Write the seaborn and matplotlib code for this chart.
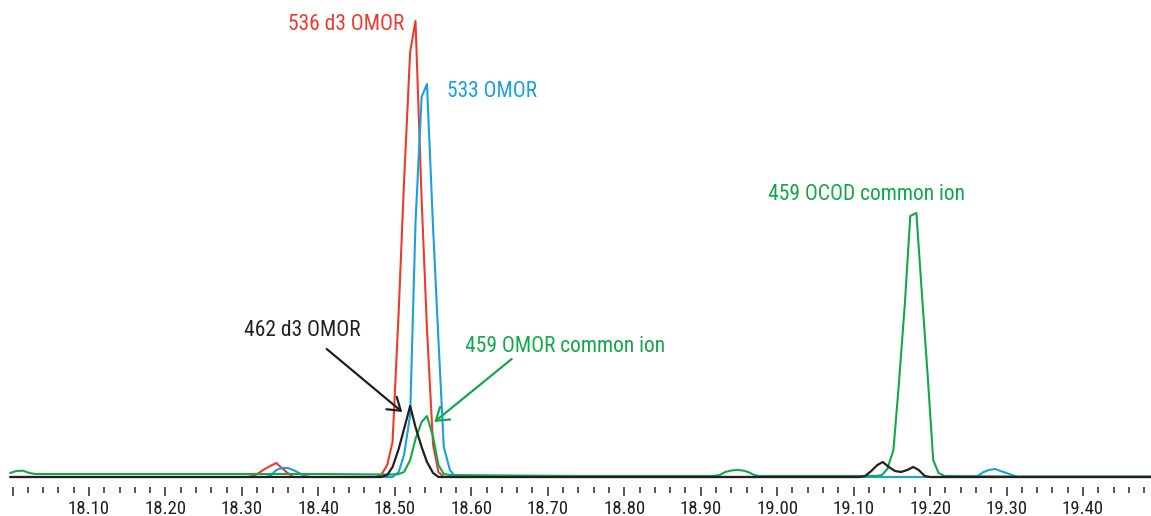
import matplotlib
matplotlib.use("Agg")
import matplotlib.pyplot as plt
import seaborn as sns
from matplotlib import font_manager
from matplotlib.ticker import MultipleLocator, FuncFormatter

# retention time (min) and abundance
red_t = [17.997, 18.10, 18.20, 18.307, 18.315, 18.322, 18.330, 18.337, 18.345, 18.352, 18.360, 18.367,
         18.40, 18.475, 18.482, 18.490, 18.497, 18.505, 18.512, 18.520, 18.527, 18.535, 18.542, 18.550,
         18.557, 18.564, 18.70, 19.00, 19.20, 19.489]
red_i = [0, 0, 0, 0, 1, 4, 8, 11, 14, 9, 4, 0,
         0, 0, 2, 12, 35, 165, 295, 425, 456, 278, 148, 32,
         5, 0, 0, 0, 0, 0]

blue_t = [17.997, 18.20, 18.330, 18.337, 18.345, 18.352, 18.360, 18.367, 18.375, 18.382, 18.390,
          18.497, 18.505, 18.512, 18.520, 18.527, 18.535, 18.542, 18.550, 18.557, 18.564, 18.572, 18.579,
          18.80, 19.255, 19.262, 19.270, 19.277, 19.285, 19.292, 19.300, 19.307, 19.315, 19.489]
blue_i = [0, 0, 0, 1, 7, 9, 9, 7, 4, 1, 0,
          0, 5, 22, 62, 254, 380, 393, 249, 137, 30, 7, 0,
          0, 0, 1, 5, 7, 8, 6, 4, 2, 0, 0]

black_t = [17.997, 18.20, 18.40, 18.482, 18.490, 18.497, 18.505, 18.512, 18.520, 18.527, 18.535,
           18.542, 18.550, 18.557, 18.80, 19.00, 19.107, 19.115, 19.123, 19.131, 19.138, 19.146,
           19.154, 19.162, 19.170, 19.178, 19.185, 19.193, 19.200, 19.489]
black_i = [0, 0, 0, 0, 2, 10, 28, 48, 71, 50, 30,
           15, 4, 0, 0, 0, 0, 1, 6, 12, 15, 10,
           6, 5, 7, 10, 7, 1, 0, 0]

green_t = [17.997, 18.005, 18.014, 18.022, 18.030, 18.20, 18.40, 18.490, 18.497, 18.505, 18.512,
           18.520, 18.527, 18.535, 18.542, 18.550, 18.557, 18.564, 18.572, 18.65, 18.75, 18.915,
           18.925, 18.932, 18.940, 18.947, 18.955, 18.962, 18.970, 18.977, 19.05, 19.130, 19.137,
           19.144, 19.152, 19.159, 19.167, 19.174, 19.182, 19.189, 19.197, 19.204, 19.211, 19.219,
           19.30, 19.489]
green_i = [4, 6, 6.3, 4, 3, 3, 3, 2.5, 2.5, 3, 5,
           17, 38, 55, 61, 40, 12, 3, 2, 1.5, 1, 1,
           2, 5, 6.5, 7, 6.5, 5, 2, 1, 1, 1, 2,
           8, 27, 92, 174, 261, 264, 186, 99, 17, 4, 1,
           0.5, 0.5]

RED, BLUE, GREEN, BLACK = "#EE3A2B", "#1AA0DC", "#12A84A", "#231F20"

sns.set_theme(style="white")
names = {f.name for f in font_manager.fontManager.ttflist}
font = "Liberation Sans"
for cand in ["Liberation Sans Narrow", "Roboto Condensed", "Open Sans Condensed"]:
    if cand in names:
        font = cand
        break
plt.rcParams["font.family"] = [font, "DejaVu Sans"]

fig = plt.figure(figsize=(11.51, 5.16), dpi=100)
ax = fig.add_axes([0, 36 / 516, 1, 470 / 516])

sns.lineplot(x=red_t, y=red_i, color=RED, lw=1.5, ax=ax)
sns.lineplot(x=blue_t, y=blue_i, color=BLUE, lw=1.5, ax=ax)
sns.lineplot(x=green_t, y=green_i, color=GREEN, lw=1.5, ax=ax)
sns.lineplot(x=black_t, y=black_i, color=BLACK, lw=1.6, ax=ax)

ax.set_xlim(17.98365, 19.48882)
ax.set_ylim(-3, 467)

for s in ["top", "right", "left"]:
    ax.spines[s].set_visible(False)
ax.spines["bottom"].set_position(("outward", 4.8))
ax.spines["bottom"].set_color("none")
ax.set_yticks([])
ax.xaxis.set_major_locator(MultipleLocator(0.1))
ax.xaxis.set_minor_locator(MultipleLocator(0.02))
ax.xaxis.set_major_formatter(FuncFormatter(lambda v, p: "" if abs(v - 18.0) < 1e-6 else f"{v:.2f}"))
ax.tick_params(axis="x", which="major", length=6.8, width=1.2, color="#3a3a3a",
               labelsize=13.5, labelcolor=BLACK, pad=3.0, bottom=True)
ax.tick_params(axis="x", which="minor", length=4.0, width=1.2, color="#3a3a3a", bottom=True)
ax.set_xlabel("")
ax.set_ylabel("")

fs = 15.5
ax.text(18.3603, 447, "536 d3 OMOR", color=RED, fontsize=fs, va="baseline")
ax.text(18.5682, 380, "533 OMOR", color=BLUE, fontsize=fs, va="baseline")
ax.text(18.988, 277, "459 OCOD common ion", color=GREEN, fontsize=fs, va="baseline")
ax.text(18.3027, 141, "462 d3 OMOR", color=BLACK, fontsize=fs, va="baseline")
ax.text(18.5917, 125, "459 OMOR common ion", color=GREEN, fontsize=fs, va="baseline")

head = "->,head_length=0.86,head_width=0.58"
ax.annotate("", xy=(18.5097, 65), xytext=(18.4109, 128),
            arrowprops=dict(arrowstyle=head, color=BLACK, lw=1.6, shrinkA=0, shrinkB=0,
                            mutation_scale=10))
ax.annotate("", xy=(18.5516, 55), xytext=(18.6528, 118),
            arrowprops=dict(arrowstyle=head, color=GREEN, lw=1.6, shrinkA=0, shrinkB=0,
                            mutation_scale=10))

fig.savefig("out.png", dpi=100)
